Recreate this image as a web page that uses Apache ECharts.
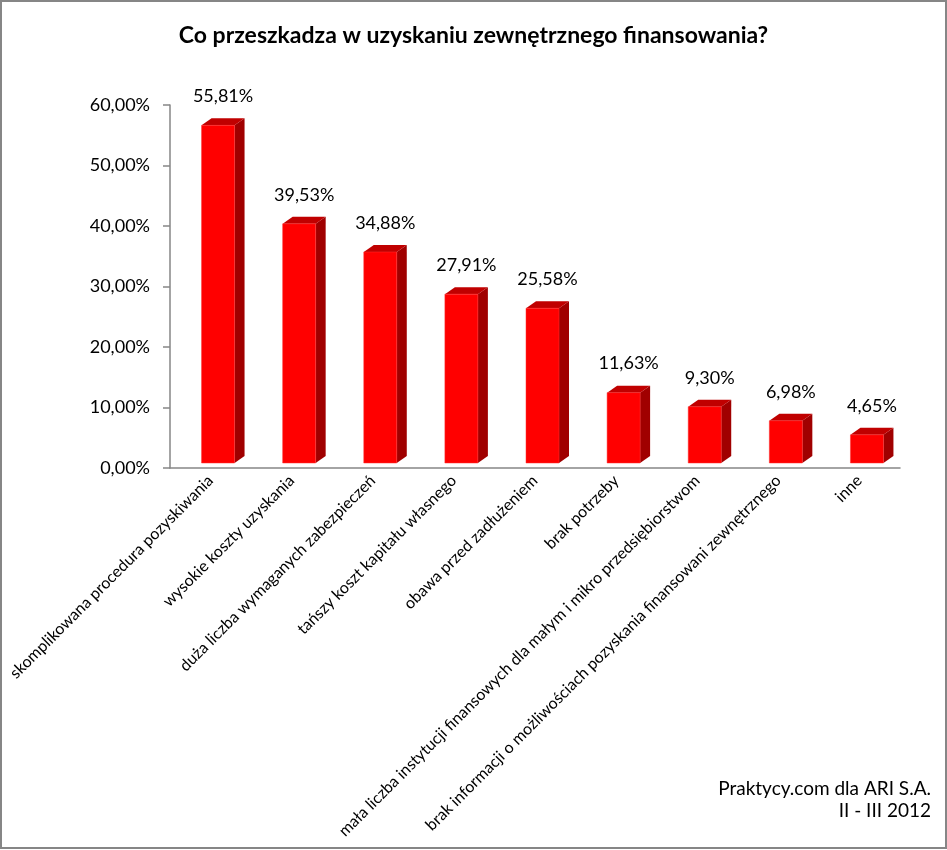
<!DOCTYPE html>
<html>
<head>
<meta charset="utf-8">
<script src="https://cdn.jsdelivr.net/npm/echarts@6/dist/echarts.min.js"></script>
<style>
  html, body { margin: 0; padding: 0; background: #fff; }
  #chart { width: 947px; height: 850px; }
</style>
</head>
<body>
<div id="chart"></div>
<script>
var categories = [
	'skomplikowana procedura pozyskiwania',
	'wysokie koszty uzyskania',
	'duża liczba wymaganych zabezpieczeń',
	'tańszy koszt kapitału własnego',
	'obawa przed zadłużeniem',
	'brak potrzeby',
	'mała liczba instytucji finansowych dla małym i mikro przedsiębiorstwom',
	'brak informacji o możliwościach pozyskania finansowani zewnętrznego',
	'inne'
];
var values = [55.81, 39.53, 34.88, 27.91, 25.58, 11.63, 9.30, 6.98, 4.65];
var yTicks = [0, 10, 20, 30, 40, 50, 60];

var titleText = 'Co przeszkadza w uzyskaniu zewnętrznego finansowania?';
var footer1 = 'Praktycy.com dla ARI S.A.';
var footer2 = 'II - III 2012';

var font = 'Lato, Carlito, Calibri, sans-serif';

function pct(v) {
	return v.toFixed(2).replace('.', ',') + '%';
}

var seriesData = [];
for (var i = 0; i < values.length; i++) {
	seriesData.push([i, values[i]]);
}

// 3d-ish bar: front face, side and top
function renderBar(params, api) {
	var base = api.coord([api.value(0), 0]);
	var top = api.coord([api.value(0), api.value(1)]);
	var lift = 5;
	var w = 33, dx = 10, dy = 7;
	var l = base[0] - 9;
	var b = base[1] - lift;
	var t = top[1] - lift;
	return {
		type: 'group',
		children: [
			{
				type: 'polygon',
				shape: { points: [[l + w, t], [l + w + dx, t - dy], [l + w + dx, b - dy], [l + w, b]] },
				style: { fill: '#a00000' }
			},
			{
				type: 'polygon',
				shape: { points: [[l, t], [l + dx, t - dy], [l + w + dx, t - dy], [l + w, t]] },
				style: { fill: '#c00000' }
			},
			{
				type: 'rect',
				shape: { x: l, y: t, width: w, height: b - t },
				style: { fill: '#ff0000', stroke: '#ff3030', lineWidth: 0.5 }
			},
			{
				type: 'text',
				style: {
					x: l + (w + dx) / 2,
					y: t - 29,
					text: pct(api.value(1)),
					align: 'center',
					verticalAlign: 'middle',
					font: '18px ' + font,
					fill: '#000'
				}
			}
		]
	};
}

var dom = document.getElementById('chart');
var myChart = echarts.init(dom);
var option = {
	backgroundColor: '#fff',
	animation: false,
	title: {
		text: titleText,
		left: 'center',
		top: 19,
		textStyle: { fontFamily: font, fontSize: 23, fontWeight: 'bold', color: '#000' }
	},
	grid: { left: 170, right: 47, top: 105, bottom: 382 },
	xAxis: {
		type: 'category',
		data: categories,
		axisLine: { lineStyle: { color: '#868686', width: 1.5 } },
		axisTick: { length: 5, lineStyle: { color: '#868686', width: 1.5 } },
		axisLabel: {
			rotate: 45,
			interval: 0,
			margin: 10,
			fontFamily: font,
			fontSize: 16,
			color: '#000'
		}
	},
	yAxis: {
		type: 'value',
		min: yTicks[0],
		max: yTicks[yTicks.length - 1],
		interval: 10,
		axisLine: { show: true, lineStyle: { color: '#868686', width: 1.5 } },
		axisTick: { show: true, length: 7, lineStyle: { color: '#868686', width: 1.5 } },
		splitLine: { show: false },
		axisLabel: {
			margin: 20,
			fontFamily: font,
			fontSize: 18,
			color: '#000',
			formatter: function (v) { return pct(v); }
		}
	},
	graphic: [
		{
			type: 'rect',
			shape: { x: 1, y: 1, width: 945, height: 847 },
			style: { fill: 'none', stroke: '#868686', lineWidth: 2 }
		},
		{
			type: 'text',
			right: 16,
			top: 779,
			style: { text: footer1, font: '19px ' + font, fill: '#000', align: 'right' }
		},
		{
			type: 'text',
			right: 16,
			top: 801,
			style: { text: footer2, font: '19px ' + font, fill: '#000', align: 'right' }
		}
	],
	series: [
		{
			type: 'custom',
			renderItem: renderBar,
			encode: { x: 0, y: 1 },
			data: seriesData
		}
	]
};
myChart.setOption(option, true);
</script>
</body>
</html>
